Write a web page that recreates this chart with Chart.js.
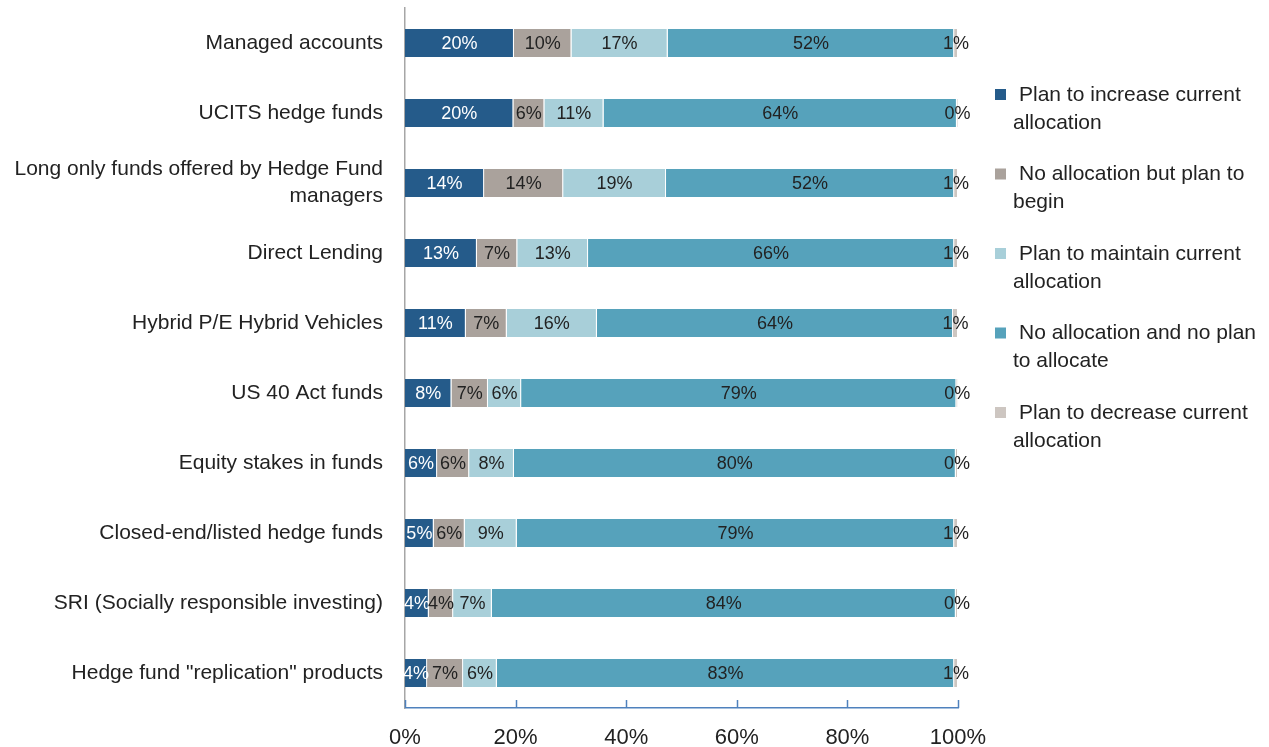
<!DOCTYPE html>
<html>
<head>
<meta charset="utf-8">
<title>Alternative allocation plans</title>
<script src="https://cdn.jsdelivr.net/npm/chart.js@4.4.1/dist/chart.umd.min.js"></script>
<style>
    html, body { margin: 0; padding: 0; background: #fff; }
    #wrap { width: 1269px; height: 747px; }
</style>
</head>
<body>
<div id="wrap"><canvas id="barChart"></canvas></div>
<script>
// categories, top to bottom
const categories = [
    "Managed accounts",
    "UCITS hedge funds",
    ["Long only funds offered by Hedge Fund", "managers"],
    "Direct Lending",
    "Hybrid P/E Hybrid Vehicles",
    "US 40 Act funds",
    "Equity stakes in funds",
    "Closed-end/listed hedge funds",
    "SRI (Socially responsible investing)",
    "Hedge fund \"replication\" products"
];

const seriesNames = [
    "Plan to increase current allocation",
    "No allocation but plan to begin",
    "Plan to maintain current allocation",
    "No allocation and no plan to allocate",
    "Plan to decrease current allocation"
];

// legend text split the way the original wraps it
const legendLines = [
    ["Plan to increase current", "allocation"],
    ["No allocation but plan to", "begin"],
    ["Plan to maintain current", "allocation"],
    ["No allocation and no plan", "to allocate"],
    ["Plan to decrease current", "allocation"]
];

// values in %
const increase = [19.7, 19.6, 14.3, 13.0, 11.0, 8.4, 5.8, 5.2, 4.3, 4.0];
const begin    = [10.4, 5.6, 14.3, 7.3, 7.4, 6.6, 5.8, 5.6, 4.4, 6.5];
const maintain = [17.4, 10.7, 18.6, 12.8, 16.3, 6.0, 8.1, 9.4, 7.0, 6.1];
const noPlan   = [51.8, 63.9, 52.1, 66.2, 64.4, 78.7, 79.9, 79.1, 83.9, 82.7];
const decrease = [0.7, 0.2, 0.7, 0.7, 0.9, 0.3, 0.4, 0.7, 0.4, 0.7];

const xTicks = [0, 20, 40, 60, 80, 100];

const colors = ["#255b8a", "#aaa29c", "#a8cfd9", "#56a2bb", "#cdc6c1"];
const labelColors = ["#ffffff", "#222222", "#222222", "#222222", "#222222"];

const FONT = "'Liberation Sans', Arial, sans-serif";
const AXIS_BLUE = "#4f81bd";

const seriesValues = [increase, begin, maintain, noPlan, decrease];

// numbers inside the bar segments
const segmentLabels = {
    id: "segmentLabels",
    afterDatasetsDraw(chart) {
        const ctx = chart.ctx;
        ctx.save();
        ctx.font = "18px " + FONT;
        ctx.textAlign = "center";
        ctx.textBaseline = "middle";
        chart.data.datasets.forEach((ds, di) => {
            const meta = chart.getDatasetMeta(di);
            meta.data.forEach((bar, i) => {
                const x = (bar.x + bar.base) / 2;
                ctx.fillStyle = labelColors[di];
                ctx.fillText(Math.round(ds.data[i]) + "%", x, bar.y + 1);
            });
        });
        ctx.restore();
    }
};

// small tick marks pointing up from the x axis
const innerTicks = {
    id: "innerTicks",
    afterDraw(chart) {
        const ctx = chart.ctx;
        const xs = chart.scales.x;
        const y0 = chart.chartArea.bottom;
        ctx.save();
        ctx.strokeStyle = AXIS_BLUE;
        ctx.lineWidth = 1.5;
        xTicks.forEach(t => {
            const px = Math.round(xs.getPixelForValue(t)) + 0.5;
            ctx.beginPath();
            ctx.moveTo(px, y0);
            ctx.lineTo(px, y0 - 8);
            ctx.stroke();
        });
        ctx.restore();
    }
};

// legend on the right with wrapped text
const sideLegend = {
    id: "sideLegend",
    afterDraw(chart) {
        const ctx = chart.ctx;
        ctx.save();
        ctx.font = "21px " + FONT;
        ctx.textBaseline = "middle";
        ctx.textAlign = "left";
        legendLines.forEach((lines, i) => {
            const y = 95 + i * 79.5;
            ctx.fillStyle = colors[i];
            ctx.fillRect(995, y - 6, 11, 11);
            ctx.fillStyle = "#222";
            ctx.fillText(lines[0], 1019, y);
            ctx.fillText(lines[1], 1013, y + 28);
        });
        ctx.restore();
    }
};

const ctxB = document.getElementById("barChart").getContext("2d");

let chart = new Chart(ctxB, {
    type: "bar",
    data: {
        labels: categories,
        datasets: seriesNames.map((name, i) => ({
            label: name,
            data: seriesValues[i],
            backgroundColor: colors[i],
            borderColor: "#ffffff",
            borderWidth: { top: 0, bottom: 0, left: 0, right: 1 },
            borderSkipped: false,
            barPercentage: 0.4,
            categoryPercentage: 1.0
        }))
    },
    options: {
        indexAxis: "y",
        responsive: true,
        maintainAspectRatio: false,
        animation: false,
        layout: {
            padding: { top: 8, right: 311, bottom: 0, left: 0 }
        },
        plugins: {
            legend: { display: false },
            tooltip: { enabled: false }
        },
        scales: {
            x: {
                stacked: true,
                min: 0,
                max: 100,
                afterBuildTicks(scale) {
                    scale.ticks = xTicks.map(v => ({ value: v }));
                },
                afterFit(scale) {
                    scale.height = 39;
                    scale.paddingLeft = 0;
                    scale.paddingRight = 0;
                },
                grid: { display: false },
                border: { display: true, color: AXIS_BLUE, width: 1.5 },
                ticks: {
                    padding: 9,
                    color: "#222",
                    font: { family: FONT, size: 22 },
                    maxRotation: 0,
                    callback: v => v + "%"
                }
            },
            y: {
                stacked: true,
                afterFit(scale) {
                    scale.width = 405;
                    scale.paddingTop = 0;
                    scale.paddingBottom = 0;
                },
                grid: { display: false },
                border: { display: true, color: "#a6a6a6", width: 1.5 },
                ticks: {
                    padding: 14,
                    color: "#222",
                    font: { family: FONT, size: 21, lineHeight: 1.3 }
                }
            }
        }
    },
    plugins: [segmentLabels, innerTicks, sideLegend]
});
</script>
</body>
</html>
